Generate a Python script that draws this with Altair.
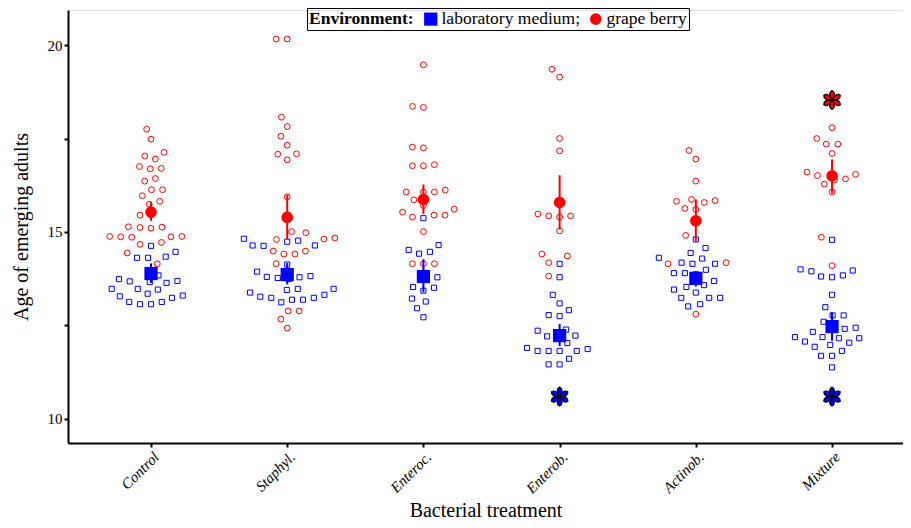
import math
import altair as alt
import pandas as pd

# ---------------- data ----------------
categories = ["Control", "Staphyl.", "Enteroc.", "Enterob.", "Actinob.", "Mixture"]
environments = ["laboratory medium", "grape berry"]

control_lab = [14.63, 14.47, 14.31, 14.31, 14.34, 13.97, 13.84, 13.68, 13.64, 13.66, 13.74, 13.69,
               13.48, 13.46, 13.48, 13.35, 13.28, 13.24, 13.30, 13.13, 13.13, 13.07, 13.07]
control_grape = [17.75, 17.48, 17.13, 17.03, 16.95, 16.75, 16.70, 16.69, 16.43, 16.36, 16.13, 16.13,
                 15.97, 15.82, 15.74, 15.45, 15.45, 15.13, 15.10, 15.14, 15.12, 14.87, 14.88, 14.88,
                 14.86, 14.87, 14.72, 14.67, 14.44, 14.15]
staphyl_lab = [14.82, 14.64, 14.64, 14.63, 14.74, 14.77, 14.13, 13.79, 13.77, 13.94, 13.82, 13.80,
               13.74, 13.45, 13.48, 13.48, 13.19, 13.19, 13.27, 13.38, 13.24, 13.24, 13.32, 13.12]
staphyl_grape = [20.16, 20.16, 18.07, 17.82, 17.56, 17.32, 17.09, 17.08, 16.93, 15.94, 14.98, 15.01,
                 14.84, 14.81, 14.80, 14.49, 14.49, 14.41, 14.41, 14.15, 12.89, 12.89, 12.67, 12.43]
enteroc_lab = [15.37, 14.52, 14.47, 14.65, 14.42, 13.79, 13.79, 13.53, 13.51, 13.43, 13.22, 13.14,
               12.96, 12.72]
enteroc_grape = [19.47, 18.36, 18.33, 17.25, 17.27, 16.77, 16.77, 16.80, 16.07, 16.07, 16.07, 16.12,
                 15.86, 15.71, 15.53, 15.40, 15.45, 15.61, 15.45, 15.01, 14.15, 14.15, 14.15]
enterob_lab = [14.15, 13.79, 13.32, 13.09, 12.75, 12.78, 12.91, 12.39, 12.21, 12.36, 12.19, 12.23,
               11.90, 11.87, 11.82, 11.82, 11.82, 11.82, 12.03, 11.61, 11.46, 11.46]
enterob_grape = [19.35, 19.14, 17.50, 17.17, 15.40, 15.43, 15.43, 15.48, 15.03, 14.41, 14.36, 14.18,
                 13.82]
actinob_lab = [14.80, 14.57, 14.44, 14.29, 14.31, 14.18, 14.15, 14.15, 13.90, 13.90, 13.99, 13.87,
               13.69, 13.58, 13.53, 13.46, 13.38, 13.24, 13.24, 13.24, 13.07, 13.01]
actinob_grape = [17.18, 16.95, 16.36, 15.79, 15.87, 15.84, 15.82, 15.63, 15.60, 14.91, 14.15, 14.18,
                 12.80]
mixture_lab = [14.79, 13.97, 13.84, 13.79, 14.00, 13.81, 13.95, 13.32, 12.99, 12.77, 12.77, 12.60,
               12.41, 12.44, 12.33, 12.41, 12.19, 12.16, 12.16, 12.07, 12.04, 11.98, 12.19, 11.93,
               11.82, 11.69, 11.69, 11.38]
mixture_grape = [17.79, 17.50, 17.35, 17.35, 17.10, 16.42, 16.60, 16.39, 16.51, 16.54, 16.28, 16.07,
                 14.86, 14.10]

lab_mean = [13.89, 13.86, 13.81, 12.23, 13.76, 12.47]
lab_lo = [13.64, 13.60, 13.39, 11.95, 13.54, 12.09]
lab_hi = [14.16, 14.17, 14.27, 12.54, 13.94, 12.85]
grape_mean = [15.53, 15.39, 15.87, 15.79, 15.30, 16.50]
grape_lo = [15.30, 14.81, 15.48, 15.07, 14.74, 16.03]
grape_hi = [15.81, 15.99, 16.27, 16.52, 15.87, 16.94]

star_category = ["Enterob.", "Mixture", "Mixture"]
star_env = ["laboratory medium", "grape berry", "laboratory medium"]
star_value = [10.60, 18.53, 10.60]

# ---------------- build tables ----------------
lab_lists = [control_lab, staphyl_lab, enteroc_lab, enterob_lab, actinob_lab, mixture_lab]
grape_lists = [control_grape, staphyl_grape, enteroc_grape, enterob_grape, actinob_grape, mixture_grape]

X_PX = 136.2   # px per category unit
Y_PX = 37.4    # px per year unit
GAP = 11.0     # min distance between swarm points (px)


def swarm(vals):
    """Simple beeswarm: returns horizontal offsets (category units)."""
    order = sorted(range(len(vals)), key=lambda i: vals[i])
    placed = []
    offs = [0.0] * len(vals)
    for i in order:
        y = vals[i] * Y_PX
        near = [(px, py) for px, py in placed if abs(py - y) < GAP]
        cands = [0.0]
        for px, py in near:
            dx = math.sqrt(GAP ** 2 - (py - y) ** 2)
            cands += [px - dx, px + dx]
        cands.sort(key=abs)
        chosen = 0.0
        for c in cands:
            if all(abs(c - px) >= math.sqrt(GAP ** 2 - (py - y) ** 2) - 1e-6 for px, py in near):
                chosen = c
                break
        placed.append((chosen, y))
        offs[i] = chosen / X_PX
    return offs


rows = []
for k, cat in enumerate(categories):
    vals = lab_lists[k] + grape_lists[k]
    envs = [environments[0]] * len(lab_lists[k]) + [environments[1]] * len(grape_lists[k])
    offs = swarm(vals)
    for v, e, o in zip(vals, envs, offs):
        rows.append({"x": k + 1 + o, "value": v, "env": e})
points = pd.DataFrame(rows)

summ = []
for k in range(len(categories)):
    summ.append({"x": k + 1, "env": environments[0], "mean": lab_mean[k], "lo": lab_lo[k], "hi": lab_hi[k]})
    summ.append({"x": k + 1, "env": environments[1], "mean": grape_mean[k], "lo": grape_lo[k], "hi": grape_hi[k]})
summary = pd.DataFrame(summ)

stars = pd.DataFrame({"x": [categories.index(c) + 1 for c in star_category],
                      "env": star_env, "value": star_value})

# ---------------- scales / axes ----------------
SERIF = "Liberation Serif"
cat_expr = "[" + ",".join("'" + c + "'" for c in categories) + "][datum.value - 1]"

x_enc = alt.X("x:Q", scale=alt.Scale(domain=[0.3906, 6.521], nice=False, zero=False),
              axis=alt.Axis(values=[1, 2, 3, 4, 5, 6], labelExpr=cat_expr, title="Bacterial treatment",
                            labelAngle=-45, labelFontStyle="italic", labelFont=SERIF, labelFontSize=15,
                            titleFont=SERIF, titleFontSize=20, titleFontWeight="normal", grid=False,
                            domainColor="black", domainWidth=2, tickColor="black", tickWidth=2,
                            tickSize=4, labelColor="black", titleColor="black",
                            titleY=73, titleBaseline="alphabetic"))
y_axis = alt.Axis(values=[10, 12.5, 15, 17.5, 20], labelExpr="datum.value % 5 === 0 ? datum.label : ''",
                  title="Age of emerging adults", labelFont=SERIF, labelFontSize=15,
                  titleFont=SERIF, titleFontSize=20, titleFontWeight="normal", grid=False,
                  domainColor="black", domainWidth=2, tickColor="black", tickWidth=2, tickSize=4,
                  labelColor="black", titleColor="black", titlePadding=16)
y_scale = alt.Scale(domain=[9.358, 20.936], nice=False, zero=False)

color_scale = alt.Scale(domain=environments, range=["#0000ff", "#ff0000"])
legend = alt.Legend(title="Environment:", orient="none", legendX=239, legendY=-2, direction="horizontal",
                    titleOrient="left", titleFont=SERIF, titleFontSize=17.5, titleFontWeight="bold",
                    titleColor="black", titlePadding=8, labelFont=SERIF, labelFontSize=17.5, labelColor="black",
                    labelExpr="datum.label == 'laboratory medium' ? 'laboratory medium;' : datum.label",
                    symbolSize=165, symbolStrokeWidth=0, symbolOpacity=1, labelOffset=2, columnPadding=6,
                    strokeColor="black", padding=2, cornerRadius=0)

lab_pts = alt.Chart(points).transform_filter(alt.datum.env == environments[0]).mark_point(
    shape="square", filled=False, size=26, strokeWidth=1, color="#0000ff", opacity=1
).encode(x=x_enc, y=alt.Y("value:Q", scale=y_scale, axis=y_axis))

grape_pts = alt.Chart(points).transform_filter(alt.datum.env == environments[1]).mark_point(
    shape="circle", filled=False, size=34, strokeWidth=1, color="#ff0000", opacity=1
).encode(x="x:Q", y="value:Q")

color_enc = alt.Color("env:N", scale=color_scale, legend=legend)

bars = alt.Chart(summary).mark_rule(strokeWidth=2).encode(
    x="x:Q", y="lo:Q", y2="hi:Q", color=color_enc)

means = alt.Chart(summary).mark_point(filled=True, opacity=1, strokeWidth=0).encode(
    x="x:Q", y="mean:Q", color=color_enc,
    shape=alt.Shape("env:N", scale=alt.Scale(domain=environments, range=["square", "circle"]), legend=legend),
    size=alt.Size("env:N", scale=alt.Scale(domain=environments, range=[175, 135]), legend=None))

# asterisk symbol: six petals
petals = []
for a in [90, 150, 210, 270, 330, 30]:
    t = math.radians(a)
    ux, uy = math.cos(t), math.sin(t)
    px, py = -uy, ux
    petals.append("M0,0Q%.3f,%.3f %.3f,%.3fQ%.3f,%.3f 0,0Z" % (
        0.75 * ux + 0.5 * px, 0.75 * uy + 0.5 * py, ux, uy, 0.75 * ux - 0.5 * px, 0.75 * uy - 0.5 * py))
star_path = "".join(petals)

star_layer = alt.Chart(stars).mark_point(shape=star_path, filled=True, size=360, stroke="black",
                                         strokeWidth=1.2, opacity=1).encode(
    x="x:Q", y="value:Q",
    fill=alt.Fill("env:N", scale=alt.Scale(domain=environments, range=["#0000ff", "#ff0000"]), legend=None))

chart = alt.layer(lab_pts, grape_pts, bars, means, star_layer).properties(
    width=835, height=433,
    autosize=alt.AutoSizeParams(type="none"),
    padding={"left": 60, "top": 2, "right": 0, "bottom": 77},
).configure_view(stroke=None).configure(background="white", font=SERIF).configure_legend(
    labelFont=SERIF, labelColor="black", titleFont=SERIF)

chart.save("out.html", embed_options={"renderer": "svg", "actions": False})
